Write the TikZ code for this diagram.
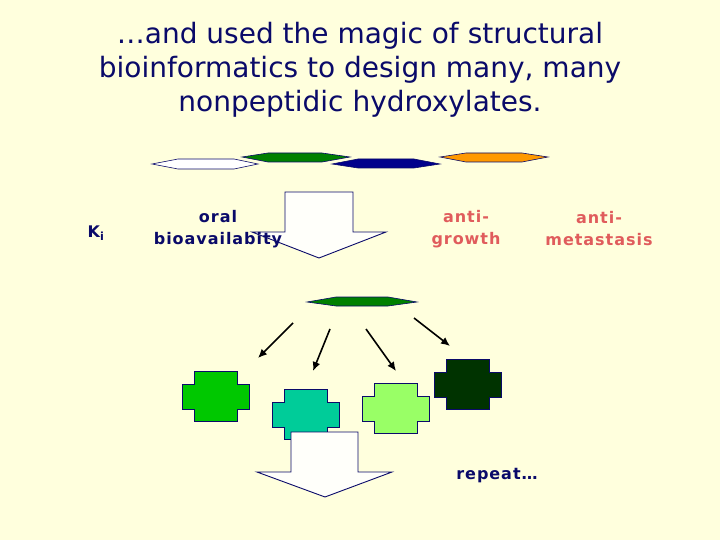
\documentclass[tikz,border=0pt]{standalone}
\usepackage{fontspec}
\setmainfont{DejaVu Sans}
\newfontfamily\lblfont[LetterSpace=6]{DejaVu Sans}
\usetikzlibrary{arrows.meta}
\definecolor{bgyellow}{RGB}{255,255,221}
\definecolor{navytxt}{RGB}{10,10,105}
\definecolor{salmon}{RGB}{224,92,92}
\definecolor{hexgreen}{RGB}{0,128,0}
\definecolor{hexnavy}{RGB}{0,0,140}
\definecolor{hexorange}{RGB}{255,153,0}
\definecolor{blkA}{RGB}{0,200,0}
\definecolor{blkB}{RGB}{0,204,153}
\definecolor{blkC}{RGB}{153,255,102}
\definecolor{blkD}{RGB}{0,51,0}
\tikzset{
 hexa/.style={draw=navytxt, line width=0.6pt},
 bigarrow/.style={draw=navytxt, fill={rgb,255:red,255;green,255;blue,250}, line width=0.9pt},
 lbl/.style={font=\lblfont\bfseries\fontsize{16}{22}\selectfont, text=navytxt, align=center},
 redlbl/.style={lbl, text=salmon},
 thin arrow/.style={-{Latex[length=9pt,width=8pt]}, line width=1.6pt, black},
 pics/blob/.style={code={
  \draw[draw=navytxt, line width=1pt, fill=#1] (12,0) -- (55,0) -- (55,13) -- (67,13) -- (67,38) -- (55,38)
   -- (55,50) -- (12,50) -- (12,38) -- (0,38) -- (0,13) -- (12,13) -- cycle;}}
}
\begin{document}
\begin{tikzpicture}[x=1pt, y=-1pt]
 \fill[bgyellow] (0,0) rectangle (720,540);
 \useasboundingbox (0,0) rectangle (720,540);

 \node[font=\fontsize{28}{34}\selectfont, text=navytxt, align=center] (title) at (360,70)
  {…and used the magic of structural\\bioinformatics to design many, many\\nonpeptidic hydroxylates.};

 % molecules on top
 \draw[hexa, fill=white] (152,164) -- (178,159) -- (234,159) -- (258,164) -- (234,169) -- (178,169) -- cycle;
 \draw[hexa, fill=hexgreen] (242,157) -- (268,153) -- (322,153) -- (350,157) -- (322,162) -- (268,162) -- cycle;
 \draw[hexa, fill=hexnavy] (332,164) -- (358,159) -- (414,159) -- (440,164) -- (414,168) -- (358,168) -- cycle;
 \draw[hexa, fill=hexorange] (440,157) -- (466,153) -- (522,153) -- (548,157) -- (522,162) -- (466,162) -- cycle;

 \draw[bigarrow] (285,192) -- (353,192) -- (353,232) -- (386,232) -- (319,258) -- (252,232) -- (285,232) -- cycle;

 \node[lbl] (ki) at (96,233) {K\textsubscript{i}};
 \node[lbl] (oral) at (218,229) {oral\\bioavailabity};
 \node[redlbl] (growth) at (466,229) {anti-\\growth};
 \node[redlbl] (meta) at (599,229) {anti-\\metastasis};

 \draw[hexa, fill=hexgreen] (307,302) -- (336,297) -- (388,297) -- (417,302) -- (388,306) -- (336,306) -- cycle;

 \coordinate (s1) at (293,323); \coordinate (e1) at (258,358);
 \coordinate (s2) at (330,329); \coordinate (e2) at (313,371);
 \coordinate (s3) at (366,329); \coordinate (e3) at (396,371);
 \coordinate (s4) at (414,318); \coordinate (e4) at (450,346);
 \path[thin arrow] (s1) edge (e1);
 \path[thin arrow] (s2) edge (e2);
 \path[thin arrow] (s3) edge (e3);
 \path[thin arrow] (s4) edge (e4);

 \pic at (182,371) {blob=blkA};
 \pic at (272,389) {blob=blkB};
 \pic at (362,383) {blob=blkC};
 \pic at (434,359) {blob=blkD};

 \draw[bigarrow] (291,432) -- (358,432) -- (358,472) -- (392,472) -- (325,497) -- (257,472) -- (291,472) -- cycle;

 \node[lbl] (again) at (497,476) {repeat…};
\end{tikzpicture}
\end{document}
